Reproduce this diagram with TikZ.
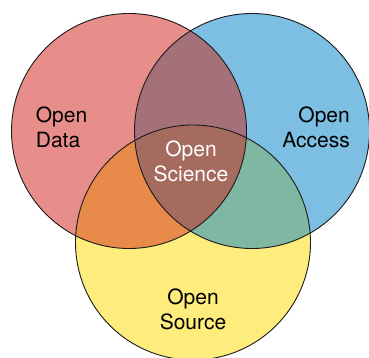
\documentclass[tikz,border=0pt]{standalone}
\usepackage{fontspec}
\setmainfont{TeX Gyre Heros}
\definecolor{cred}{HTML}{E88E8A}
\definecolor{cblue}{HTML}{7DBFE2}
\definecolor{cyellow}{HTML}{FEEC7C}
\definecolor{crb}{HTML}{A47079}
\definecolor{cry}{HTML}{E78A4A}
\definecolor{cby}{HTML}{80B7A2}
\definecolor{call}{HTML}{A66B5F}
\definecolor{cline}{HTML}{1A1A1A}
\begin{document}
\begin{tikzpicture}[x=1pt,y=1pt,
  lbl/.style={inner sep=0pt, font=\fontsize{21}{25}\selectfont},
  ring/.style={draw=cline, line width=0.9pt}]
\useasboundingbox (0,0) rectangle (369,358);
\coordinate (R) at (129,227);
\coordinate (B) at (252,227);
\coordinate (Y) at (193,115.5);
\def\rr{117.5pt}
\fill[cred] (R) circle (\rr);
\fill[cblue] (B) circle (\rr);
\fill[cyellow] (Y) circle (\rr);
\begin{scope}\clip (R) circle (\rr); \fill[crb] (B) circle (\rr); \end{scope}
\begin{scope}\clip (R) circle (\rr); \fill[cry] (Y) circle (\rr); \end{scope}
\begin{scope}\clip (B) circle (\rr); \fill[cby] (Y) circle (\rr); \end{scope}
\begin{scope}\clip (R) circle (\rr); \clip (B) circle (\rr); \fill[call] (Y) circle (\rr); \end{scope}
\draw[ring] (R) circle (\rr);
\draw[ring] (B) circle (\rr);
\draw[ring] (Y) circle (\rr);
\node[lbl, align=left, anchor=west] (data) at (35.7,230.75) {Open\\Data};
\node[lbl, align=right, anchor=east] (access) at (350,230.75) {Open\\Access};
\node[lbl, align=center, text=white] (science) at (191,196.25) {Open\\Science};
\node[lbl, align=center] (source) at (193,48.6) {Open\\Source};
\end{tikzpicture}
\end{document}
